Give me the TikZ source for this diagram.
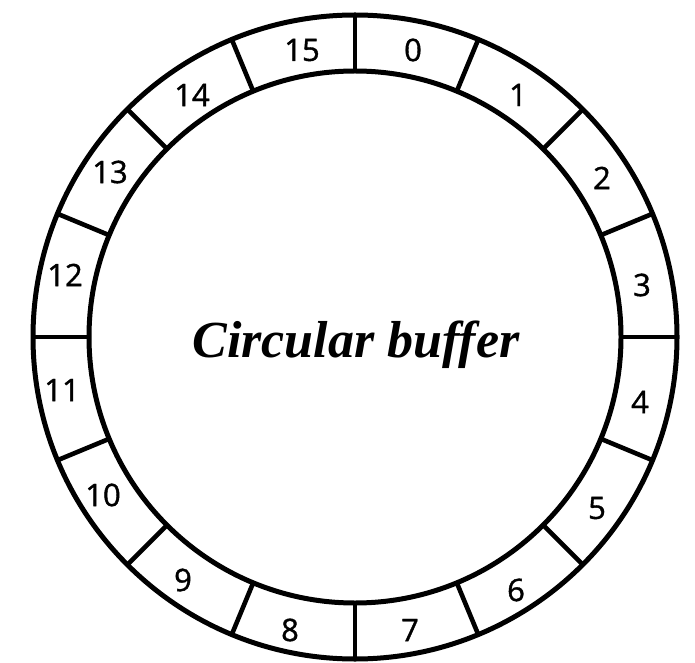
\documentclass[tikz,border=0pt]{standalone}
\usepackage{fontspec}
\usetikzlibrary{calc}
\setmainfont{Liberation Serif}
\newfontfamily\numfont[FakeBold=1.2]{Open Sans}
\begin{document}
\begin{tikzpicture}[x=1pt,y=1pt,
  ringline/.style={line width=5pt,black},
  divline/.style={line width=4.6pt,black},
  numlbl/.style={font=\numfont\fontsize{31}{31}\selectfont,inner sep=0pt,text=black}]
\useasboundingbox (0,0) rectangle (695,662);
\coordinate (c) at (355,325);
\draw[ringline] (c) circle[radius=322];
\draw[ringline] (c) circle[radius=266];
\foreach \k in {0,...,15}{
  \coordinate (in\k) at ($(c)+({90-22.5*\k}:266)$);
  \coordinate (out\k) at ($(c)+({90-22.5*\k}:322)$);
  \draw[divline] (in\k) -- (out\k);
}
\node[numlbl] (n0) at (413,612) {0};
\node[numlbl] (n1) at (518,567) {1};
\node[numlbl] (n2) at (602,484) {2};
\node[numlbl] (n3) at (642,377) {3};
\node[numlbl] (n4) at (640,260) {4};
\node[numlbl] (n5) at (597,154) {5};
\node[numlbl] (n6) at (516,72) {6};
\node[numlbl] (n7) at (410,32) {7};
\node[numlbl] (n8) at (290,32) {8};
\node[numlbl] (n9) at (183,82) {9};
\node[numlbl] (n10) at (103,167) {10};
\node[numlbl] (n11) at (62,272) {11};
\node[numlbl] (n12) at (65,387) {12};
\node[numlbl] (n13) at (110,490) {13};
\node[numlbl] (n14) at (192,567) {14};
\node[numlbl] (n15) at (302,612) {15};
\node[font=\fontsize{52}{52}\selectfont\bfseries\itshape,inner sep=0pt] (title) at (356,317) {Circular buffer};
\end{tikzpicture}
\end{document}
